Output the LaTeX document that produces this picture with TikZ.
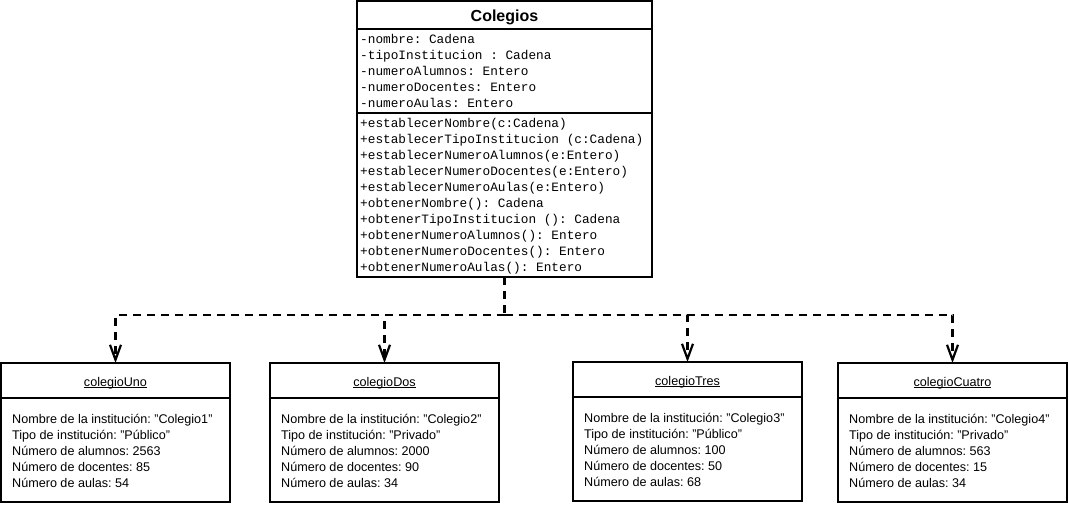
\documentclass[tikz,border=0pt]{standalone}
\usepackage{fontspec}
\setmainfont{Liberation Sans}
\newfontfamily\codefont{Liberation Mono}
\usetikzlibrary{arrows.meta}
\usetikzlibrary{positioning}
\frenchspacing

\begin{document}
\begin{tikzpicture}[x=1pt, y=-1pt,
        box/.style={draw, rectangle, line width=2.2pt, inner sep=0pt, outer sep=0pt, anchor=north west},
        member/.style={anchor=base west, inner sep=0pt, font=\codefont\fontsize{12.75}{16}\selectfont},
        slot/.style={anchor=base west, inner sep=0pt, font=\fontsize{12.6}{16}\selectfont},
        link/.style={line width=2.2pt, dash pattern=on 8pt off 6pt}]
    \useasboundingbox (0,0) rectangle (1069,505);

    % clase
    \node[box, minimum width=295pt, minimum height=276pt] (colegios) at (357,1) {};
    \node[anchor=base, inner sep=0pt, font=\bfseries\fontsize{16}{18}\selectfont] (titulo) at (504.5,22) {Colegios};
    \draw[line width=2.2pt] (colegios.west |- 0,29) -- (colegios.east |- 0,29);
    \draw[line width=2.2pt] (colegios.west |- 0,113) -- (colegios.east |- 0,113);

    \foreach \txt [count=\i] in {-nombre: Cadena, -tipoInstitucion : Cadena, -numeroAlumnos: Entero,
            -numeroDocentes: Entero, -numeroAulas: Entero}
        \node[member] (atr\i) at (360,{44+16*(\i-1)}) {\txt};

    \foreach \txt [count=\i] in {+establecerNombre(c:Cadena), +establecerTipoInstitucion (c:Cadena),
            +establecerNumeroAlumnos(e:Entero), +establecerNumeroDocentes(e:Entero),
            +establecerNumeroAulas(e:Entero), +obtenerNombre(): Cadena,
            +obtenerTipoInstitucion (): Cadena, +obtenerNumeroAlumnos(): Entero,
            +obtenerNumeroDocentes(): Entero, +obtenerNumeroAulas(): Entero}
        \node[member] (met\i) at (360,{127.5+16*(\i-1)}) {\txt};

    % objetos
    \foreach \n/\x/\y/\tit/\nom/\tip/\alu/\doc/\aul in {
            uno/1/363/colegioUno/Colegio1/Público/2563/85/54,
            dos/270/363/colegioDos/Colegio2/Privado/2000/90/34,
            tres/573/362/colegioTres/Colegio3/Público/100/50/68,
            cuatro/838/363/colegioCuatro/Colegio4/Privado/563/15/34}
    {
        \node[box, minimum width=229pt, minimum height=139pt] (\n) at (\x,\y) {};
        \draw[line width=2.2pt] ([yshift=-35pt]\n.north west) -- ([yshift=-35pt]\n.north east);
        \node[anchor=base, inner sep=0pt, font=\fontsize{12.6}{16}\selectfont] (\n-tit) at ([yshift=-23pt]\n.north) {\underline{\smash{\tit}}};
        \node[slot] (\n-1) at ([xshift=11pt, yshift=-60pt]\n.north west) {Nombre de la institución: "\nom"};
        \node[slot] (\n-2) at ([xshift=11pt, yshift=-76pt]\n.north west) {Tipo de institución: "\tip"};
        \node[slot] (\n-3) at ([xshift=11pt, yshift=-92pt]\n.north west) {Número de alumnos: \alu};
        \node[slot] (\n-4) at ([xshift=11pt, yshift=-108pt]\n.north west) {Número de docentes: \doc};
        \node[slot] (\n-5) at ([xshift=11pt, yshift=-124pt]\n.north west) {Número de aulas: \aul};
    }

    % dependencias
    \coordinate (bus) at (colegios.south |- 0,315);
    \draw[link] (colegios.south) -- (bus);
    \foreach \n in {uno,dos,tres,cuatro}
        \draw[link, -{Straight Barb[length=15pt,width=11pt]}] (bus) -| (\n.north);
\end{tikzpicture}
\end{document}
